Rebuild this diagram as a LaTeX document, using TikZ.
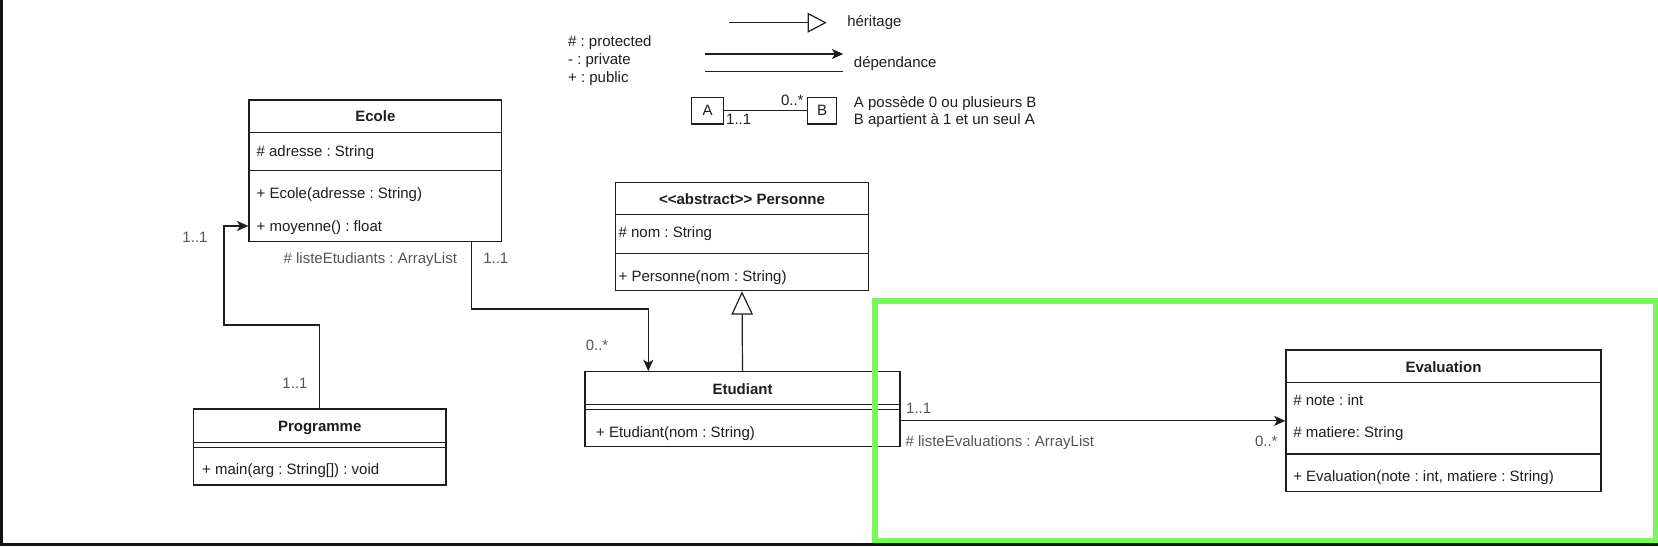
\documentclass[tikz,border=0pt]{standalone}
\usepackage{fontspec}
\setmainfont{Liberation Sans}
\usetikzlibrary{arrows.meta,fit}
\definecolor{ln}{RGB}{30,30,30}
\definecolor{tx}{RGB}{30,30,30}
\definecolor{lb}{RGB}{85,85,85}
\definecolor{grn}{RGB}{118,250,88}
\definecolor{blk}{RGB}{17,17,17}
\frenchspacing
\begin{document}
\frenchspacing
\begin{tikzpicture}[x=0.75pt,y=-0.75pt, line width=0.9pt,
  box/.style={draw=ln, inner sep=0pt},
  txt/.style={inner sep=0pt, text height=8pt, text depth=0pt, font=\fontsize{11.25}{13}\selectfont\frenchspacing, text=tx},
  lt/.style={txt, anchor=west},
  ttl/.style={txt, font=\fontsize{11.25}{13}\selectfont\bfseries},
  lab/.style={txt, text=lb},
  dep/.style={draw=ln, -{Stealth[length=8.5pt,width=7.5pt,inset=2.2pt]}},
  inh/.style={draw=ln, -{Triangle[open,length=17.5pt,width=16.2pt,fill=white]}},
  inhs/.style={draw=ln, -{Triangle[open,length=14.3pt,width=14.8pt,fill=white]}},
  sep/.style={draw=ln}
]
\useasboundingbox (0,0) rectangle (1658,546);
\fill[white] (0,0) rectangle (1658,546);

% ---------------- legend ----------------
\coordinate (h1) at (729.3,22.7);
\coordinate (h2) at (826.7,22.7);
\draw[inhs] (h1) -- (h2);
\node[lt] (lh) at (846.7,21) {héritage};
\node[lt] (lp1) at (567.5,41.5) {\# : protected};
\node[lt] (lp2) at (567.5,59) {- : private};
\node[lt] (lp3) at (567.5,77) {+ : public};
\coordinate (d1) at (705,54);
\coordinate (d2) at (843.3,54);
\draw[dep] (d1) -- (d2);
\coordinate (e1) at (705,71.7);
\coordinate (e2) at (843.3,71.7);
\draw[sep] (e1) -- (e2);
\node[lt] (ld) at (853.3,62) {dépendance};
\node[box, fit={(691.7,97.3)(723.3,124)}] (la) {};
\node[txt] at (la.center) {A};
\node[box, fit={(807.7,97.3)(836.7,124)}] (lbx) {};
\node[txt] at (lbx.center) {B};
\draw[sep] (la.east) -- (lbx.west);
\node[txt] (lm1) at (792.3,100.5) {0..*};
\node[txt] (lm2) at (738.7,119) {1..1};
\node[lt] (lt1) at (853.3,102.3) {A possède 0 ou plusieurs B};
\node[lt] (lt2) at (853.3,119.5) {B apartient à 1 et un seul A};

% ---------------- Ecole ----------------
\node[box, fit={(249,100)(501.7,241.7)}] (ecole) {};
\draw[sep] (ecole.west |- 0,132.7) -- (ecole.east |- 0,132.7);
\draw[sep] (ecole.west |- 0,170.7) -- (ecole.east |- 0,170.7);
\node[ttl] at (375.35,116.5) {Ecole};
\node[lt] at (256,151) {\# adresse : String};
\node[lt] at (256,192.7) {+ Ecole(adresse : String)};
\node[lt] at (256,226) {+ moyenne() : float};

% ---------------- Programme ----------------
\node[box, fit={(193.3,409)(446,485)}] (prog) {};
\draw[sep] (prog.west |- 0,442.3) -- (prog.east |- 0,442.3);
\draw[sep] (prog.west |- 0,447.3) -- (prog.east |- 0,447.3);
\node[ttl] at (319.7,426) {Programme};
\node[lt] at (201.5,469.3) {+ main(arg : String[]) : void};

% ---------------- Personne ----------------
\node[box, fit={(615.7,182.3)(868.3,290.7)}] (pers) {};
\draw[sep] (pers.west |- 0,214.3) -- (pers.east |- 0,214.3);
\draw[sep] (pers.west |- 0,253.3) -- (pers.east |- 0,253.3);
\node[ttl] at (742,199.3) {{<}{<}abstract{>}{>} Personne};
\node[lt] at (618,232.3) {\# nom : String};
\node[lt] at (618,276) {+ Personne(nom : String)};

% ---------------- Etudiant ----------------
\node[box, fit={(585,371.7)(900,446.7)}] (etud) {};
\draw[sep] (etud.west |- 0,404.3) -- (etud.east |- 0,404.3);
\draw[sep] (etud.west |- 0,409.3) -- (etud.east |- 0,409.3);
\node[ttl] at (742.5,389) {Etudiant};
\node[lt] at (595.5,431.7) {+ Etudiant(nom : String)};

% ---------------- Evaluation ----------------
\node[box, fit={(1286,350)(1601,491.7)}] (eval) {};
\draw[sep] (eval.west |- 0,382.7) -- (eval.east |- 0,382.7);
\draw[sep] (eval.west |- 0,454) -- (eval.east |- 0,454);
\node[ttl] at (1443.5,366.7) {Evaluation};
\node[lt] at (1292.7,400) {\# note : int};
\node[lt] at (1292.7,432.3) {\# matiere: String};
\node[lt] at (1292.7,475.7) {+ Evaluation(note : int, matiere : String)};

% ---------------- connectors ----------------
\draw[dep] (prog.north) |- (224,325) |- (ecole.west |- 0,226);
\node[lab] at (195,236.7) {1..1};
\node[lab] at (295,383.3) {1..1};

\draw[dep] (ecole.south -| 471.7,0) |- (648.3,309) -- (etud.north -| 648.3,0);
\node[lab] at (370.3,258) {\# listeEtudiants : ArrayList};
\node[lab] at (495.8,258) {1..1};
\node[lab] at (597,345) {0..*};

\draw[inh] (etud.north) -- (pers.south);

\draw[dep] (etud.east |- eval.west) -- (eval.west);
\node[lab] at (918.7,408.3) {1..1};
\node[lab, anchor=west] at (905,440.7) {\# listeEvaluations : ArrayList};
\node[lab] at (1266.3,440.7) {0..*};

% ---------------- frame ----------------
\draw[grn, line width=4.5pt] (874.75,300.5) rectangle (1655.5,541);
\fill[blk] (0,0) rectangle (3.3,546);
\fill[blk] (0,543.3) rectangle (1658,546);
\end{tikzpicture}
\end{document}
